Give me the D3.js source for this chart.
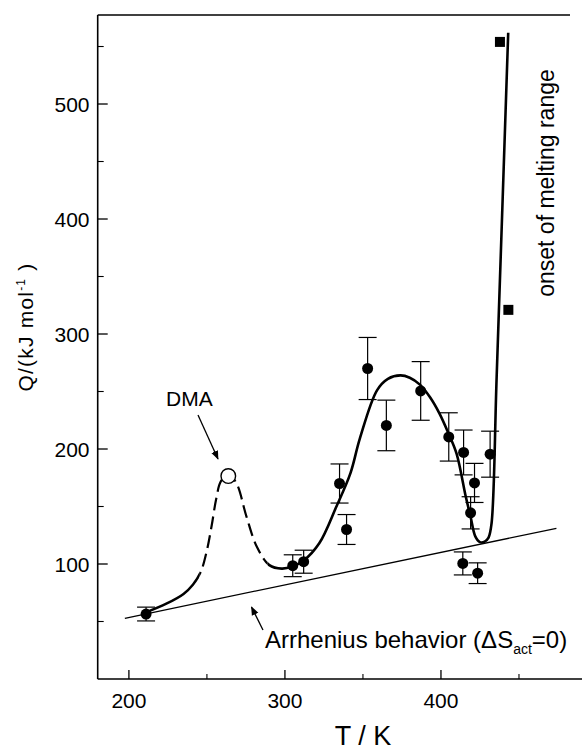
<!DOCTYPE html>
<html><head><meta charset="utf-8">
<script src="https://cdn.jsdelivr.net/npm/d3@7"></script>
<style>
html,body{margin:0;padding:0;background:#fff;}
svg{display:block;font-family:"Liberation Sans",Arial,Helvetica,sans-serif;}
</style></head>
<body>
<script>
// ---- data ----
const pointT   = [211, 305, 312, 335, 339.5, 353, 365, 387, 405, 414.5, 414, 419, 421.5, 423.5, 431.5];
const pointQ   = [56.5, 98.5, 102, 170, 130, 270, 220.5, 250.5, 210.5, 197, 100.5, 144.5, 170.5, 92, 195.5];
const pointErr = [6, 9.5, 10, 17, 13, 27, 22, 25.5, 21, 19.5, 10, 14, 17, 9, 20];

const squareT = [437.8, 443.2];
const squareQ = [554, 321];

const dmaT = [263.7];
const dmaQ = [176.5];

// fitted curve; dashed between dashFrom and dashTo
const curveT = [211, 224, 235, 241, 246, 250, 253, 256, 259, 264, 269, 275.4, 282, 290, 298, 305, 312, 322, 333, 342, 348, 359, 366, 374, 380, 386.5, 393, 399, 405, 410, 416, 419, 422, 425, 428, 430.5, 432.4, 435.7, 443.1];
const curveQ = [58, 65.5, 74, 82, 93, 112, 133, 157, 172, 178, 170, 141, 115, 99, 96, 98, 103, 118, 150, 179, 209, 251, 261, 264, 262, 256, 245, 231, 213, 196, 158, 141, 124, 119, 119.5, 123, 135, 263, 562];
const dashFrom = 245, dashTo = 289;

// Arrhenius line (ΔS_act = 0)
const arrT = [197.4, 474];
const arrQ = [52.8, 131];

const xMajor = [200, 300, 400];
const xMinor = [250, 350, 450];
const yMajor = [100, 200, 300, 400, 500];
const yMinor = [50, 150, 250, 350, 450, 550];

// ---- layout ----
const W = 582, H = 751;
const L = 97.7, R = 570, T = 15, B = 679;
const svg = d3.select("body").append("svg").attr("width", W).attr("height", H);

const x = d3.scaleLinear().domain([180, 482.7]).range([L, R]);
const y = d3.scaleLinear().domain([0, 577.4]).range([B, T]);

// axes
const ax = svg.append("g").attr("stroke", "#000").attr("fill", "none");
ax.append("line").attr("x1", L).attr("x2", L).attr("y1", T).attr("y2", B).attr("stroke-width", 1.6);
ax.append("line").attr("x1", L).attr("x2", W).attr("y1", B).attr("y2", B).attr("stroke-width", 1.6);
ax.append("line").attr("x1", L).attr("x2", R).attr("y1", T).attr("y2", T).attr("stroke-width", 1.4);

xMajor.forEach(v => ax.append("line").attr("x1", x(v)).attr("x2", x(v)).attr("y1", B).attr("y2", B - 9).attr("stroke-width", 1.3));
xMinor.forEach(v => ax.append("line").attr("x1", x(v)).attr("x2", x(v)).attr("y1", B).attr("y2", B - 5).attr("stroke-width", 1.1));
yMajor.forEach(v => ax.append("line").attr("x1", L).attr("x2", L + 10).attr("y1", y(v)).attr("y2", y(v)).attr("stroke-width", 1.3));
yMinor.forEach(v => ax.append("line").attr("x1", L).attr("x2", L + 6).attr("y1", y(v)).attr("y2", y(v)).attr("stroke-width", 1.1));

svg.append("g").selectAll("text").data(xMajor).join("text")
  .attr("x", d => x(d)).attr("y", 708).attr("text-anchor", "middle")
  .attr("font-size", 21).text(d => d);
svg.append("g").selectAll("text").data(yMajor).join("text")
  .attr("x", 89.5).attr("y", d => y(d) + 7.5).attr("text-anchor", "end")
  .attr("font-size", 21).text(d => d);

// axis titles
svg.append("text").attr("x", 363).attr("y", 745).attr("text-anchor", "middle")
  .attr("font-size", 27).text("T / K");
const yt = svg.append("text").attr("transform", "translate(33,327) rotate(-90)")
  .attr("text-anchor", "middle").attr("font-size", 21).attr("letter-spacing", 1.2);
yt.append("tspan").text("Q/(kJ mol");
yt.append("tspan").attr("font-size", 12).attr("dy", -8).text("-1");
yt.append("tspan").attr("dy", 8).text("  )");

// Arrhenius line
svg.append("line").attr("x1", x(arrT[0])).attr("y1", y(arrQ[0])).attr("x2", x(arrT[1])).attr("y2", y(arrQ[1]))
  .attr("stroke", "#000").attr("stroke-width", 1.3);

// fitted curve: one smooth path, clipped into solid / dashed / solid parts
const defs = svg.append("defs");
const clips = [["cS1", 0, x(dashFrom)], ["cD", x(dashFrom), x(dashTo)], ["cS2", x(dashTo), W]];
clips.forEach(([id, a, b]) => defs.append("clipPath").attr("id", id)
  .append("rect").attr("x", a).attr("y", 0).attr("width", b - a).attr("height", H));
const line = d3.line().curve(d3.curveCatmullRom.alpha(0.5)).x(d => x(d[0])).y(d => y(d[1]));
const pts = curveT.map((t, i) => [t, curveQ[i]]);
svg.append("path").attr("d", line(pts)).attr("fill", "none").attr("stroke", "#000").attr("stroke-width", 2.5)
  .attr("clip-path", "url(#cS1)");
svg.append("path").attr("d", line(pts)).attr("fill", "none").attr("stroke", "#000").attr("stroke-width", 2.2)
  .attr("stroke-dasharray", "13,6").attr("stroke-dashoffset", -95).attr("clip-path", "url(#cD)");
svg.append("path").attr("d", line(pts)).attr("fill", "none").attr("stroke", "#000").attr("stroke-width", 2.6)
  .attr("clip-path", "url(#cS2)");

// error bars
const eb = svg.append("g").attr("stroke", "#000").attr("stroke-width", 1.2);
pointT.forEach((t, i) => {
  const cx = x(t), top = y(pointQ[i] + pointErr[i]), bot = y(pointQ[i] - pointErr[i]);
  eb.append("line").attr("x1", cx).attr("x2", cx).attr("y1", top).attr("y2", bot);
  eb.append("line").attr("x1", cx - 9).attr("x2", cx + 9).attr("y1", top).attr("y2", top);
  eb.append("line").attr("x1", cx - 9).attr("x2", cx + 9).attr("y1", bot).attr("y2", bot);
});
svg.append("g").selectAll("circle").data(pointT).join("circle")
  .attr("cx", d => x(d)).attr("cy", (d, i) => y(pointQ[i])).attr("r", 5.5).attr("fill", "#000");

// squares
svg.append("g").selectAll("rect").data(squareT).join("rect")
  .attr("x", d => x(d) - 5).attr("y", (d, i) => y(squareQ[i]) - 5).attr("width", 10).attr("height", 10).attr("fill", "#000");

// DMA open circle
svg.append("circle").attr("cx", x(dmaT[0])).attr("cy", y(dmaQ[0])).attr("r", 7.3)
  .attr("fill", "#fff").attr("stroke", "#000").attr("stroke-width", 1.4);

// arrows
defs.append("marker").attr("id", "ah").attr("viewBox", "0 0 10 10").attr("refX", 9).attr("refY", 5)
  .attr("markerWidth", 9).attr("markerHeight", 9).attr("markerUnits", "userSpaceOnUse").attr("orient", "auto")
  .append("path").attr("d", "M0,1 L10,5 L0,9 Z").attr("fill", "#000");
svg.append("line").attr("x1", 198).attr("y1", 415).attr("x2", 218).attr("y2", 459)
  .attr("stroke", "#000").attr("stroke-width", 1.3).attr("marker-end", "url(#ah)");
svg.append("line").attr("x1", 263).attr("y1", 630).attr("x2", 251.5).attr("y2", 607)
  .attr("stroke", "#000").attr("stroke-width", 1.3).attr("marker-end", "url(#ah)");

// labels
svg.append("text").attr("x", 166).attr("y", 406).attr("font-size", 21).text("DMA");
const at = svg.append("text").attr("x", 265).attr("y", 648).attr("font-size", 24);
at.append("tspan").text("Arrhenius behavior (\u0394S");
at.append("tspan").attr("font-size", 14).attr("dy", 6).text("act");
at.append("tspan").attr("dy", -6).text("=0)");
svg.append("text").attr("transform", "translate(554,183) rotate(-90)").attr("text-anchor", "middle")
  .attr("font-size", 23).text("onset of melting range");
</script>
</body></html>
